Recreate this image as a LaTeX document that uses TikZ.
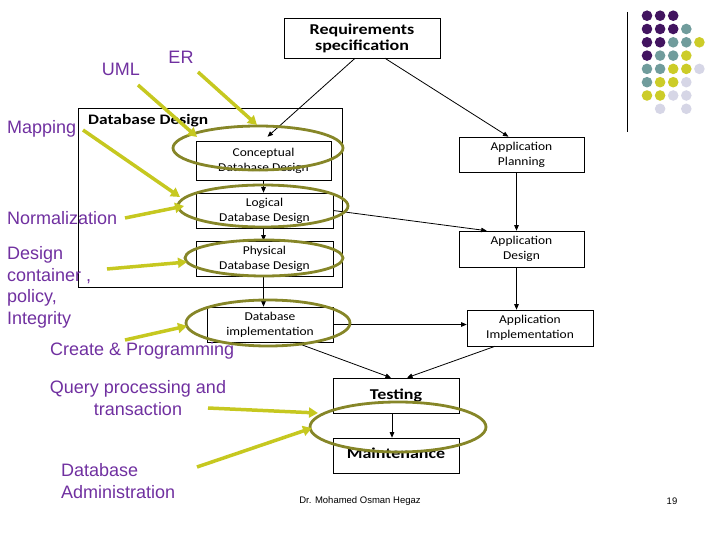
\documentclass[tikz,border=0pt]{standalone}
\usepackage{fontspec}
\setmainfont{Liberation Sans}
\newfontfamily\boxfont{Carlito}[FakeStretch=1.12]
\newfontfamily\boxbold{Carlito}[FakeStretch=1.2, UprightFont=*-Bold]
\usetikzlibrary{arrows.meta,calc,shapes.geometric}
\definecolor{lblpurple}{RGB}{112,48,160}
\definecolor{ygreen}{RGB}{198,200,32}
\definecolor{olive}{RGB}{134,134,40}
\definecolor{dpurple}{RGB}{66,20,96}
\definecolor{dteal}{RGB}{112,156,156}
\definecolor{dyellow}{RGB}{204,204,40}
\definecolor{dlav}{RGB}{214,214,230}
\tikzset{
  box/.style={draw=black, line width=0.6pt, fill=white, inner sep=0pt, align=center,
    font={\boxfont\fontsize{12}{15}\selectfont}},
  boldbox/.style={box, font={\boxbold\fontsize{15}{16}\selectfont}},
  conn/.style={-{Triangle[length=5.5pt,width=4.5pt]}, line width=0.8pt},
  yarrow/.style={draw=ygreen, line width=3.5pt, -{Triangle[length=9pt,width=10pt]}},
  oval/.style={draw=olive, line width=2.8pt},
  lbl/.style={text=lblpurple, inner sep=0pt, font={\fontsize{18}{21.5}\selectfont}}
}
\begin{document}
\begin{tikzpicture}[x=1pt,y=-1pt]
\useasboundingbox (0,0) rectangle (720,540);

% outer database design box
\node[draw=black, line width=0.6pt, minimum width=264pt, minimum height=179pt, inner sep=0pt] (dbd) at (210,197.5) {};
\node[anchor=west, inner sep=0pt, font={\boxbold\fontsize{14.5}{16}\selectfont}] (dbdtitle) at (88,121) {Database Design};

% boxes
\node[boldbox, minimum width=156pt, minimum height=40pt] (req) at (362,38) {Requirements\\specification};
\node[box, minimum width=135pt, minimum height=39pt] (concept) at (263.5,160.5) {Conceptual\\Database Design};
\node[box, minimum width=137pt, minimum height=35pt] (logical) at (264.5,210.5) {Logical\\Database Design};
\node[box, minimum width=137pt, minimum height=35pt] (physical) at (264.5,258.5) {Physical\\Database Design};
\node[box, minimum width=126pt, minimum height=35pt] (dbimpl) at (270,324.5) {Database\\implementation};
\node[box, minimum width=125pt, minimum height=35pt] (plan) at (521.5,154.5) {Application\\Planning};
\node[box, minimum width=125pt, minimum height=36pt] (design) at (521.5,249) {Application\\Design};
\node[box, minimum width=126pt, minimum height=36pt] (appimpl) at (530,328) {Application\\Implementation};
\node[boldbox, minimum width=126pt, minimum height=35pt] (test) at (396,395.5) {Testing};
\node[box, minimum width=126pt, minimum height=35pt] (maint) at (396,455.5) {};
\node[inner sep=0pt, font={\boxbold\fontsize{15}{16}\selectfont}] (mainttext) at (396,453) {Maintenance};

% black connectors
\draw[conn] ($(req.south)+(-7,0)$) -- ($(concept.north)+(4,-4)$);
\draw[conn] ($(req.south)+(23,0)$) -- ($(plan.north)+(-13,0)$);
\draw[conn] (concept.south) -- (logical.north -| concept.south);
\draw[conn] (logical.south -| concept.south) -- (physical.north -| concept.south);
\draw[conn] (physical.south -| concept.south) -- (dbimpl.north -| concept.south);
\draw[conn] (logical.east) -- ($(design.north west)+(28,0)$);
\draw[conn] ($(plan.south)+(-5,0)$) -- ($(design.north)+(-5,0)$);
\draw[conn] ($(design.south)+(-5,0)$) -- ($(appimpl.north)+(-13.5,0)$);
\draw[conn] (dbimpl.east) -- (appimpl.west |- dbimpl.east);
\draw[conn] ($(dbimpl.south)+(25,0)$) -- ($(test.north)+(-5,0)$);
\draw[conn] ($(appimpl.south)+(-35,0)$) -- ($(test.north)+(11,0)$);
\draw[conn] ($(test.south)+(-4,0)$) -- ($(maint.north)+(-4,0)$);

% olive ellipses
\draw[oval] (258,148) ellipse [x radius=85pt, y radius=22pt];
\draw[oval] (263,206) ellipse [x radius=85pt, y radius=21pt];
\draw[oval] (264,258) ellipse [x radius=79pt, y radius=18pt];
\draw[oval] (268,323) ellipse [x radius=82pt, y radius=23pt];
\draw[oval] (398,427) ellipse [x radius=88pt, y radius=25pt];

% labels
\node[lbl] (uml) at (121,69) {UML};
\node[lbl] (er) at (181,57) {ER};
\node[lbl, anchor=west] (mapping) at (7,129) {Mapping};
\node[lbl, anchor=west] (norm) at (7,218) {Normalization};
\node[lbl, anchor=west, align=left] (dcont) at (7,287.5) {Design\\container , \\policy,\\Integrity};
\node[lbl, anchor=west] (create) at (50,351) {Create \& Programming};
\node[lbl, align=center] (query) at (138,398) {Query processing and\\transaction};
\node[lbl, anchor=west, align=left] (admin) at (61,481) {Database\\Administration};

% yellow arrows
\coordinate (s1) at (138,85);  \coordinate (e1) at (197,137);
\coordinate (s2) at (198,72);  \coordinate (e2) at (257,125);
\coordinate (s3) at (83,130);  \coordinate (e3) at (180,197);
\coordinate (s4) at (125,218); \coordinate (e4) at (184,206);
\coordinate (s5) at (107,269); \coordinate (e5) at (187,262);
\coordinate (s6) at (125,340); \coordinate (e6) at (187,326);
\coordinate (s7) at (208,408); \coordinate (e7) at (318,413);
\coordinate (s8) at (197,467); \coordinate (e8) at (312,428);
\foreach \i in {1,...,8} { \draw[yarrow] (s\i) -- (e\i); }

% footer
\node[inner sep=0pt, font={\fontsize{9.5}{11}\selectfont}] (author) at (360,501) {Dr. Mohamed Osman Hegaz};
\node[inner sep=0pt, font={\fontsize{9.5}{11}\selectfont}] (pagenum) at (672,501) {19};

% decoration: vertical line and dots
\draw[line width=1pt] (627,12) -- (627,132);
\def\nonename{none}
\foreach \row/\cols in {0/{dpurple,dpurple,dpurple,none,none},
                        1/{dpurple,dpurple,dpurple,dteal,none},
                        2/{dpurple,dpurple,dteal,dteal,dyellow},
                        3/{dpurple,dteal,dteal,dyellow,none},
                        4/{dteal,dteal,dyellow,dyellow,dlav},
                        5/{dteal,dyellow,dyellow,dlav,none},
                        6/{dyellow,dyellow,dlav,dlav,none},
                        7/{none,dlav,none,dlav,none}} {
  \foreach \c [count=\k from 0] in \cols {
    \ifx\c\nonename\else
      \fill[\c] ({647+13.1*\k},{15.7+13.3*\row}) circle[radius=5.3pt];
    \fi
  }
}
\end{tikzpicture}
\end{document}
